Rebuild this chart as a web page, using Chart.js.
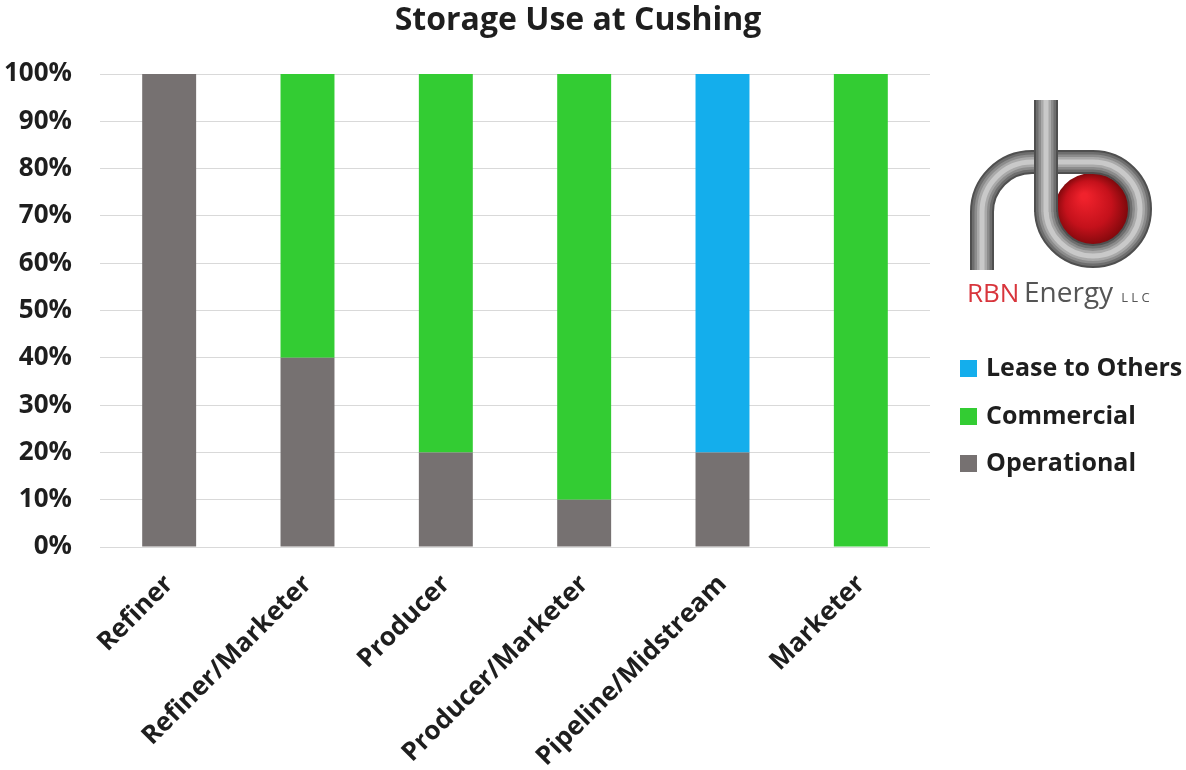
<!DOCTYPE html>
<html>
<head>
<meta charset="utf-8">
<style>
  html, body { margin: 0; padding: 0; background: #ffffff; }
  #wrap { width: 1186px; height: 770px; position: relative; }
</style>
<script src="https://cdn.jsdelivr.net/npm/chart.js@4/dist/chart.umd.min.js"></script>
</head>
<body>
<div id="wrap"><canvas id="c" width="1186" height="770"></canvas></div>
<script>
// Storage use by owner type at Cushing, share of capacity (%)
const categories = ['Refiner', 'Refiner/Marketer', 'Producer', 'Producer/Marketer', 'Pipeline/Midstream', 'Marketer'];
const operational = [100, 40, 20, 10, 20, 0];
const commercial = [0, 60, 80, 90, 0, 100];
const leaseToOthers = [0, 0, 0, 0, 80, 0];
const yTicks = [0, 10, 20, 30, 40, 50, 60, 70, 80, 90, 100];

const FONT = '"Open Sans", "Noto Sans", sans-serif';
const TEXT = '#1e1e1e';

// Legend (top series first) and company logo in the right margin
const sidePanel = {
  id: 'sidePanel',
  afterDraw(chart) {
    const ctx = chart.ctx;
    ctx.save();

    // --- legend ---
    const ds = chart.data.datasets.slice().reverse();
    const ys = [368, 416, 463];
    ctx.font = 'bold 25px ' + FONT;
    ctx.textBaseline = 'middle';
    ctx.textAlign = 'left';
    ds.forEach((d, i) => {
      ctx.fillStyle = d.backgroundColor;
      ctx.fillRect(960, ys[i] - 8, 17, 17);
      ctx.fillStyle = TEXT;
      ctx.fillText(d.label, 986, ys[i] + 1);
    });

    // --- logo: pipe shaped "rb" with a red sphere ---
    const cx = 1093, cy = 209, r = 47;
    // red sphere
    const g = ctx.createRadialGradient(1084, 196, 3, 1092, 211, 40);
    g.addColorStop(0, '#f0222c');
    g.addColorStop(0.55, '#c4111b');
    g.addColorStop(1, '#6e0608');
    ctx.fillStyle = g;
    ctx.beginPath();
    ctx.arc(1092, 211, 38, 0, Math.PI * 2);
    ctx.fill();

    const pipe = (pathFn) => {
      const layers = [[24, '#4f4f4f'], [20, '#6e6e6e'], [15, '#8c8c8c'], [10, '#a9a9a9'], [5, '#c9c9c9']];
      layers.forEach(([w, c]) => {
        ctx.lineWidth = w;
        ctx.strokeStyle = c;
        ctx.lineCap = 'butt';
        ctx.beginPath();
        pathFn();
        ctx.stroke();
      });
    };
    // "r": leg, bend and top run into the loop
    pipe(() => {
      ctx.moveTo(982, 270);
      ctx.lineTo(982, 212);
      ctx.arcTo(982, 162, 1032, 162, 50);
      ctx.lineTo(cx, 162);
    });
    // loop of the "b"
    pipe(() => {
      ctx.arc(cx, cy, r, -Math.PI / 2, Math.PI, false);
    });
    // stem of the "b"
    pipe(() => {
      ctx.moveTo(1046, 100);
      ctx.lineTo(1046, 212);
    });

    // wordmark
    ctx.textBaseline = 'alphabetic';
    ctx.font = '26px "Open Sans", sans-serif';
    ctx.fillStyle = '#d8353c';
    ctx.fillText('RBN', 967, 302);
    ctx.fillStyle = '#555555';
    ctx.font = '28px "Open Sans", sans-serif';
    ctx.fillText('Energy', 1024, 302);
    const w2 = ctx.measureText('Energy').width;
    ctx.font = '13px "Open Sans", sans-serif';
    ctx.fillText('L L C', 1024 + w2 + 8, 302);

    ctx.restore();
  }
};

new Chart(document.getElementById('c'), {
  type: 'bar',
  data: {
    labels: categories,
    datasets: [
      { label: 'Operational', data: operational, backgroundColor: '#767171' },
      { label: 'Commercial', data: commercial, backgroundColor: '#33cc33' },
      { label: 'Lease to Others', data: leaseToOthers, backgroundColor: '#14aeec' }
    ]
  },
  options: {
    responsive: false,
    animation: false,
    layout: { padding: { left: 0, right: 30, top: 0, bottom: 0 } },
    datasets: { bar: { categoryPercentage: 1, barPercentage: 0.39 } },
    plugins: {
      legend: { display: false },
      tooltip: { enabled: false },
      title: {
        display: true,
        text: 'Storage Use at Cushing',
        color: TEXT,
        font: { family: FONT, size: 32, weight: 'bold' },
        padding: { top: 2, bottom: 33.6 }
      }
    },
    scales: {
      x: {
        stacked: true,
        grid: { display: false, drawTicks: false },
        border: { display: false },
        ticks: {
          color: TEXT,
          font: { family: FONT, size: 26, weight: 'bold' },
          maxRotation: 45,
          minRotation: 45,
          padding: 22
        },
        afterFit(scale) { scale.height = 223; }
      },
      y: {
        stacked: true,
        min: 0,
        max: 100,
        afterBuildTicks(scale) { scale.ticks = yTicks.map(v => ({ value: v })); },
        grid: { color: '#d9d9d9', lineWidth: 1, drawTicks: false },
        border: { display: false },
        ticks: {
          color: TEXT,
          font: { family: FONT, size: 26, weight: 'bold' },
          padding: 28,
          callback: v => v + '%'
        },
        afterFit(scale) { scale.width = 100; }
      },
      // empty right-hand strip that keeps room for the legend and logo
      side: {
        type: 'linear',
        position: 'right',
        display: true,
        grid: { display: false, drawTicks: false },
        border: { display: false },
        ticks: { display: false },
        afterFit(scale) { scale.width = 226; }
      }
    }
  },
  plugins: [sidePanel]
});
</script>
</body>
</html>
